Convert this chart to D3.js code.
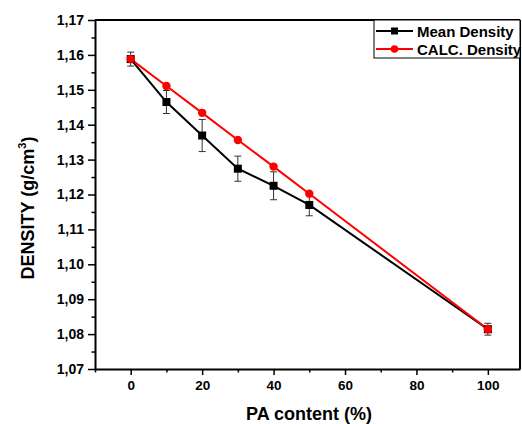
<!DOCTYPE html>
<html lang="en">
<head>
  <meta charset="utf-8">
  <title>density-vs-PA</title>
  <script src="https://d3js.org/d3.v7.min.js"></script>
  <style>
    body { margin: 0; background: #fff; }
    text { font-family: "Liberation Sans", Arial, sans-serif; font-weight: bold; fill: #000; }
    .tick text { font-size: 14px; }
    .axis path.domain { stroke: #000; stroke-width: 2; }
    .axis .tick line { stroke: #000; stroke-width: 1.5; }
    .legend text { font-size: 15px; }
  </style>
</head>
<body>
<script>
  // data
  const paContent = [0, 10, 20, 30, 40, 50, 100];
  const meanDensity = [1.1588, 1.1465, 1.1369, 1.1274, 1.1225, 1.1170, 1.0814];
  const meanError = [0.0020, 0.0033, 0.0046, 0.0036, 0.0040, 0.0031, 0.0017];
  const calcDensity = [1.1588, 1.1511, 1.1434, 1.1356, 1.1280, 1.1202, 1.0814];
  const xTicks = [0, 20, 40, 60, 80, 100];
  const yTicks = [1.07, 1.08, 1.09, 1.10, 1.11, 1.12, 1.13, 1.14, 1.15, 1.16, 1.17];
  const seriesNames = ["Mean Density", "CALC. Density"];

  const width = 522, height = 424;
  const margin = { top: 20, right: 2, bottom: 55, left: 95 };
  const innerW = width - margin.left - margin.right;
  const innerH = height - margin.top - margin.bottom;

  const svg = d3.select("body").append("svg")
    .attr("width", width).attr("height", height);
  const g = svg.append("g").attr("transform", `translate(${margin.left},${margin.top})`);

  const x = d3.scaleLinear().domain([-10, 109]).range([0, innerW]);
  const y = d3.scaleLinear().domain([1.07, 1.17]).range([innerH, 0]);
  const fmt = d => d3.format(".2f")(d).replace(".", ",");

  // minor ticks
  const xMinor = d3.range(-10, 110, 10).filter(v => v % 20 !== 0);
  const yMinor = d3.range(1.075, 1.17, 0.01);

  g.append("g").attr("class", "axis")
    .attr("transform", `translate(0,${innerH})`)
    .call(d3.axisBottom(x).tickValues(xMinor).tickSize(3.5).tickFormat(""))
    .select(".domain").remove();
  g.append("g").attr("class", "axis")
    .attr("transform", `translate(0,${innerH})`)
    .call(d3.axisBottom(x).tickValues(xTicks).tickSize(6).tickSizeOuter(0).tickPadding(5))
    .selectAll(".tick text").style("font-size", "13.5px");

  g.append("g").attr("class", "axis")
    .call(d3.axisLeft(y).tickValues(yMinor).tickSize(3.5).tickFormat(""))
    .select(".domain").remove();
  g.append("g").attr("class", "axis")
    .call(d3.axisLeft(y).tickValues(yTicks).tickFormat(fmt).tickSize(7).tickSizeOuter(0).tickPadding(4));

  // top and right frame
  g.append("line").attr("x1", 0).attr("x2", innerW).attr("y1", 0).attr("y2", 0)
    .attr("stroke", "#000").attr("stroke-width", 2);
  g.append("line").attr("x1", innerW).attr("x2", innerW).attr("y1", 0).attr("y2", innerH)
    .attr("stroke", "#000").attr("stroke-width", 2);

  const line = d3.line().x(d => x(d[0])).y(d => y(d[1]));
  const meanPts = paContent.map((p, i) => [p, meanDensity[i], meanError[i]]);
  const calcPts = paContent.map((p, i) => [p, calcDensity[i]]);

  g.append("path").datum(meanPts).attr("d", line)
    .attr("fill", "none").attr("stroke", "#000").attr("stroke-width", 2);
  g.append("path").datum(calcPts).attr("d", line)
    .attr("fill", "none").attr("stroke", "#ff0000").attr("stroke-width", 2);

  // error bars
  const eb = g.append("g").attr("stroke", "#333").attr("stroke-width", 1);
  meanPts.forEach(d => {
    const cx = x(d[0]), y1 = y(d[1] + d[2]), y2 = y(d[1] - d[2]);
    eb.append("line").attr("x1", cx).attr("x2", cx).attr("y1", y1).attr("y2", y2);
    eb.append("line").attr("x1", cx - 3.5).attr("x2", cx + 3.5).attr("y1", y1).attr("y2", y1);
    eb.append("line").attr("x1", cx - 3.5).attr("x2", cx + 3.5).attr("y1", y2).attr("y2", y2);
  });

  g.selectAll("rect.mean").data(meanPts).join("rect").attr("class", "mean")
    .attr("x", d => x(d[0]) - 4).attr("y", d => y(d[1]) - 4)
    .attr("width", 8).attr("height", 8).attr("fill", "#000");
  g.selectAll("circle.calc").data(calcPts).join("circle").attr("class", "calc")
    .attr("cx", d => x(d[0])).attr("cy", d => y(d[1])).attr("r", 4.2).attr("fill", "#ff0000");

  // legend
  const lg = svg.append("g").attr("class", "legend");
  lg.append("rect").attr("x", 374).attr("y", 20).attr("width", 146).attr("height", 38)
    .attr("fill", "#fff").attr("stroke", "#000").attr("stroke-width", 1);
  const colors = ["#000", "#ff0000"];
  seriesNames.forEach((name, i) => {
    const ly = 31 + i * 18;
    lg.append("line").attr("x1", 376).attr("x2", 413).attr("y1", ly).attr("y2", ly)
      .attr("stroke", colors[i]).attr("stroke-width", 2);
    if (i === 0) {
      lg.append("rect").attr("x", 391).attr("y", ly - 3.5).attr("width", 7).attr("height", 7).attr("fill", "#000");
    } else {
      lg.append("circle").attr("cx", 394.5).attr("cy", ly).attr("r", 3.8).attr("fill", "#ff0000");
    }
    lg.append("text").attr("x", 417).attr("y", ly + 5.5).text(name);
  });

  // axis titles
  svg.append("text").attr("x", 309).attr("y", 420).attr("text-anchor", "middle")
    .style("font-size", "18px").text("PA content (%)");
  const yt = svg.append("text").attr("transform", "translate(34,208) rotate(-90)")
    .attr("text-anchor", "middle").style("font-size", "18px");
  yt.append("tspan").text("DENSITY (g/cm");
  yt.append("tspan").attr("dy", -8).style("font-size", "11px").text("3");
  yt.append("tspan").attr("dy", 8).text(")");
</script>
</body>
</html>
